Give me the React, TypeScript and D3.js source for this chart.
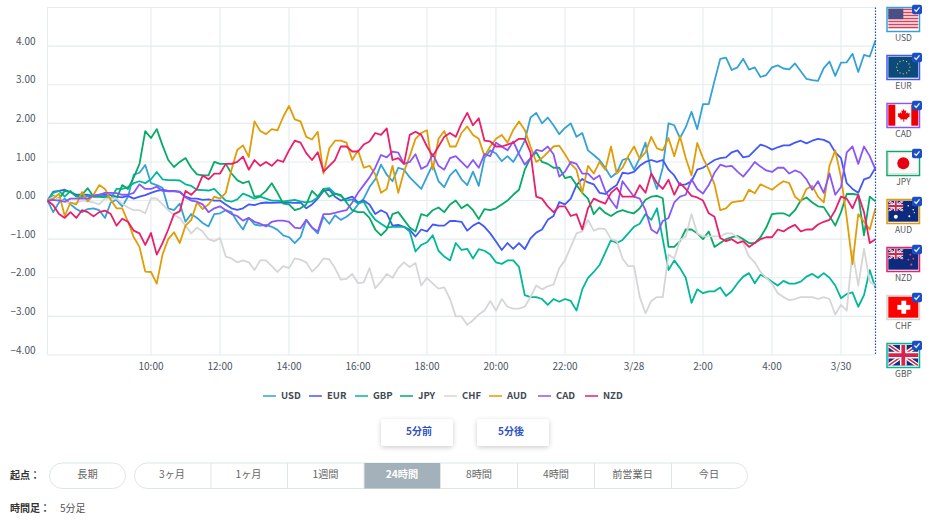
import * as d3 from "d3"

const currencies = ["USD", "EUR", "GBP", "JPY", "CHF", "AUD", "CAD", "NZD"]
const colors: Record<string, string> = {
  USD: "#34a2d6",
  EUR: "#4258f8",
  GBP: "#00b899",
  JPY: "#05ab66",
  CHF: "#d6d6d6",
  AUD: "#e09d06",
  CAD: "#8a56f8",
  NZD: "#ea1f6c",
}

// 10 minute readings, one row per hour, 7:00 to 7:00
const USD = [
  0, -0.3, -0.05, 0.05, -0.1, -0.22,
  -0.3, -0.22, -0.2, -0.25, -0.45, -0.05,
  0.02, -0.15, 0.1, 0.67, 0.72, 0.92,
  0.45, 0.4, 0.33, -0.2, -0.25, -0.08,
  -0.55, -0.35, -0.45, -0.58, -0.67, -0.35,
  -0.33, -0.25, -0.3, -0.55, -0.75, -0.45,
  -0.62, -0.65, -0.63, -0.68, -0.76, -0.9,
  -0.95, -1.1, -0.95, -0.5, -0.7, -0.85,
  -0.42, -0.6, -0.38, -0.5, -0.42, -0.3,
  -0.1, 0.05, 0.35, 0.55, 0.93, 0.67,
  0.5, 0.85, 0.8, 0.6, 0.45, 0.3,
  0.62, 0.93, 0.5, 0.35, 0.65, 0.8,
  0.55, 0.4, 0.75, 0.38, 1.1, 1.3,
  1.22, 1.02, 1.15, 1.0, 1.25, 1.55,
  2.15, 2.27, 2.0, 2.15, 1.95, 1.72,
  1.88, 2.0, 1.65, 1.75, 1.3, 1.18,
  1.05, 0.85, 0.6, 0.72, 1.05, 1.1,
  0.8, 1.1, 1.5, 0.7, 0.3, 0.85,
  2.0, 1.95, 1.62, 1.9, 2.3, 1.85,
  2.5, 2.5, 3.1, 3.67, 3.7, 3.38,
  3.45, 3.67, 3.39, 3.45, 3.2, 3.25,
  3.45, 3.5, 3.42, 3.4, 3.55, 3.35,
  3.15, 3.12, 3.1, 3.43, 3.6, 3.23,
  3.57, 3.58, 3.8, 3.33, 3.77, 3.73, 4.15,
]
const EUR = [
  0, 0.23, 0.25, 0.28, 0.22, 0.15,
  0.15, 0.15, 0.12, 0.15, 0.15, 0.14,
  0.1, 0.08, 0.12, 0.05, 0.1, 0.14,
  0.2, 0.25, 0.28, 0.25, 0.25, 0.23,
  0.1, 0.05, 0.05, 0.02, 0.03, 0.0,
  0.0, -0.1, -0.2, -0.24, -0.2, -0.1,
  -0.12, -0.07, -0.05, -0.06, -0.05, -0.05,
  -0.05, -0.06, -0.05, -0.2, -0.1, 0.05,
  0.25, 0.28, 0.1, 0.0, 0.05, 0.1,
  -0.05, 0.0, -0.1, -0.35, -0.25, -0.33,
  -0.65, -0.63, -0.68, -0.76, -0.93, -0.75,
  -0.8, -0.62, -0.65, -0.65, -0.53, -0.53,
  -0.55, -0.78, -0.65, -0.57, -0.68, -0.85,
  -1.06, -1.28, -1.1, -1.25, -1.1, -1.26,
  -0.98, -0.83, -0.75, -0.5, -0.4, -0.04,
  -0.1, 0.05, 0.4, 0.56, 0.47, 0.42,
  0.2, 0.17, 0.3, 0.4, 0.72, 0.7,
  0.74, 0.9, 1.0, 1.05, 1.0, 1.05,
  0.8, 0.65, 0.4, 0.42, 0.5, 0.8,
  0.85, 0.95, 1.05, 1.1, 1.12, 1.25,
  1.3, 1.12, 1.15, 1.3, 1.45, 1.4,
  1.32, 1.38, 1.43, 1.43, 1.5, 1.55,
  1.48, 1.55, 1.6, 1.57, 1.5, 1.25,
  1.1, 0.45, 0.3, 0.2, 0.55, 0.6, 0.85,
]
const GBP = [
  0, 0.2, 0.25, 0.1, 0.25, 0.1,
  0.1, 0.12, 0.1, 0.1, 0.08, 0.05,
  0.3, 0.3, 0.35, 0.45, 0.5, 0.45,
  0.55, 0.74, 0.55, 0.53, 0.53, 0.52,
  0.42, 0.38, 0.28, 0.27, 0.26, 0.3,
  0.15, 0.0, -0.03, 0.03, 0.18, 0.12,
  0.05, 0.1, 0.05, 0.0, 0.0, -0.02,
  0.0, 0.02, -0.02, -0.05, -0.02, 0.08,
  0.3, 0.32, 0.18, 0.12, 0.0, 0.03,
  -0.08, -0.03, -0.3, -0.5, -0.6, -0.7,
  -0.68, -0.68, -0.68, -0.8, -1.32, -1.15,
  -1.08, -0.9, -1.3, -1.45, -1.55, -1.1,
  -1.28, -1.25, -1.5, -1.26, -1.3, -1.4,
  -1.6, -1.64, -1.55, -1.55, -1.72, -2.45,
  -2.5, -2.5, -2.55, -2.7, -2.55, -2.62,
  -2.55, -2.6, -2.85, -2.3, -2.0, -1.85,
  -1.67, -1.35, -1.02, -1.1, -1.02, -0.85,
  -0.68, -0.6, -0.35, -0.5, -0.2, -1.0,
  -1.8, -1.55, -1.75, -2.0, -2.65, -2.3,
  -2.4, -2.35, -2.35, -2.25, -2.47, -2.35,
  -2.14, -1.97, -1.88, -2.14, -1.92, -2.0,
  -2.1, -2.2, -2.08, -2.15, -2.15, -2.1,
  -1.97, -1.9, -2.0, -1.88, -2.0, -2.2,
  -2.53, -2.42, -2.38, -2.75, -2.45, -1.8, -2.27,
]
const JPY = [
  0, 0.12, 0.05, 0.25, 0.22, 0.12,
  0.15, 0.32, 0.1, 0.1, 0.1, 0.07,
  0.05, 0.4, 0.3, 0.6, 0.95, 1.8,
  1.62, 1.85, 1.43, 1.05, 0.87, 1.0,
  1.1, 0.85, 0.68, 0.65, 0.65, 1.0,
  0.95, 0.95, 0.7, 0.53, 0.45, 0.5,
  0.1, 0.12, 0.25, 0.45, 0.2, -0.08,
  -0.1, -0.25, -0.2, -0.1, 0.25, 0.1,
  0.3, 0.1, 0.18, 0.15, -0.05, -0.25,
  -0.3, -0.3, -0.45, -0.75, -0.9, -0.75,
  -0.35, -0.3, -0.5, -0.7, -0.8, -0.35,
  -0.4, -0.25, -0.18, -0.3, -0.1, 0.0,
  -0.2, -0.1, -0.25, -0.48, -0.22, -0.25,
  -0.2, -0.1, 0.0, 0.15, 0.28, 0.8,
  1.1, 1.25, 1.0, 0.95, 0.85, 0.85,
  0.58, 0.62, 0.4, 0.2, 0.05, -0.35,
  -0.18, -0.32, -0.4, -0.3, -0.25, -0.3,
  -0.33, -0.2, 0.02, 0.1, 0.12, 0.06,
  -1.2, -1.2, -1.05, -0.75, -0.75, -0.85,
  -1.0, -0.8, -1.2, -1.1, -1.0, -0.95,
  -0.92, -1.0, -1.1, -1.1, -0.95, -0.7,
  -0.35, -0.33, -0.33, -0.4, -0.25, 0.0,
  0.08, -0.05, -0.15, -0.17, -0.4, -0.65,
  -0.3, 0.17, 0.17, 0.15, -0.9, 0.1, -0.02,
]
const CHF = [
  0, 0.1, 0.05, -0.03, -0.07, -0.07,
  0.0, -0.02, -0.05, -0.1, 0.05, 0.06,
  0.05, -0.08, -0.18, -0.25, -0.25, -0.33,
  0.06, 0.05, -0.1, -0.25, -0.37, -0.45,
  -0.65, -0.85, -0.7, -0.8, -1.0, -1.05,
  -0.97, -1.45, -1.5, -1.6, -1.55, -1.6,
  -1.8, -1.55, -1.55, -1.7, -1.85, -1.7,
  -1.75, -1.5, -1.53, -1.6, -1.84, -1.7,
  -1.5, -1.52, -1.75, -2.05, -2.03, -1.9,
  -2.14, -2.12, -1.75, -2.27, -2.1, -1.9,
  -2.0, -1.75, -1.6, -1.72, -1.62, -2.2,
  -2.0, -2.15, -2.28, -2.25, -2.55, -3.0,
  -3.0, -3.22, -3.1, -2.95, -2.85, -2.6,
  -2.85, -2.55, -2.75, -2.8, -2.8, -2.75,
  -2.5, -2.2, -2.3, -2.22, -2.18, -1.75,
  -1.55, -1.2, -0.85, -0.8, -0.5, -0.78,
  -0.72, -0.74, -1.0, -1.05, -1.5, -1.7,
  -1.7, -2.5, -2.92, -2.6, -2.5, -2.5,
  -1.4, -1.5, -1.02, -0.93, -0.35, -0.85,
  -0.93, -0.93, -0.93, -0.93, -0.85, -0.85,
  -0.95, -1.1, -1.45, -1.6, -1.85, -2.0,
  -2.15, -2.4, -2.5, -2.58, -2.55, -2.5,
  -2.5, -2.5, -2.55, -2.5, -2.55, -2.95,
  -2.7, -2.85, -1.3, -2.2, -1.25, -2.1, -2.2,
]
const AUD = [
  0, 0.05, 0.18, -0.4, -0.05, -0.1,
  0.22, -0.02, 0.15, 0.4, 0.3, 0.02,
  -0.2, -0.2, -0.55, -0.95, -1.2, -1.84,
  -1.85, -2.15, -1.4, -1.0, -0.82, -1.1,
  -0.65, -0.5, -0.05, -0.22, -0.1, 0.1,
  0.05, 0.2, 0.8, 1.31, 1.43, 1.13,
  2.05, 1.8, 1.72, 1.85, 1.82, 2.17,
  2.45, 2.1, 2.05, 1.65, 1.58, 1.78,
  0.7, 1.35, 1.55, 1.55, 1.5, 1.05,
  1.3, 0.85, 0.9, 0.68, 0.2, 0.3,
  0.9, 0.2, 0.75, 1.15, 1.6, 1.75,
  1.82, 0.8, 1.6, 1.8, 1.4, 1.4,
  1.75, 1.92, 1.7, 1.6, 1.15, 1.4,
  1.6, 1.7, 1.5, 1.83, 2.05, 1.83,
  1.4, 1.0, 1.1, 1.25, 1.4, 1.42,
  1.2, 0.95, 0.8, 0.2, 0.9, 0.7,
  1.0, 0.8, 1.4, 0.7, 0.85, 1.15,
  1.4, 1.08, 1.25, 1.65, 1.35, 1.3,
  1.62, 1.15, 1.66, 1.1, 0.65, 1.49,
  1.1, 0.8, 0.42, -0.25, -0.2, -0.05,
  -0.02, 0.0, 0.28, 0.19, 0.42, 0.35,
  0.28, 0.4, 0.5, 0.45, 0.1, -0.02,
  0.3, 0.38, 0.1, -0.05, 0.9, 1.3,
  0.6, -0.45, -1.65, -0.35, -0.55, -0.75, -0.2,
]
const CAD = [
  0, 0.02, 0.0, -0.03, 0.05, 0.05,
  0.06, 0.05, 0.13, 0.15, 0.2, 0.2,
  0.19, 0.15, 0.15, 0.2, 0.42, 0.3,
  0.3, 0.36, 0.25, 0.24, 0.24, 0.22,
  0.08, 0.0, -0.03, -0.1, -0.3, -0.2,
  -0.15, -0.25, -0.35, -0.4, -0.52, -0.45,
  -0.55, -0.6, -0.67, -0.55, -0.52, -0.52,
  -0.55, -0.7, -0.72, -0.5, -0.7, -0.8,
  -0.35, -0.35, -0.32, -0.28, -0.25, -0.05,
  0.2, 0.4, 0.6, 0.85, 1.18, 1.12,
  1.27, 1.24, 0.95, 1.0, 1.2, 0.82,
  0.9, 1.2, 0.9, 0.8, 1.1, 1.15,
  1.0, 0.85, 1.05, 0.85, 1.2, 1.15,
  1.5, 1.4, 1.3, 1.53, 1.2, 0.93,
  1.1, 1.31, 1.28, 1.4, 1.2, 0.62,
  0.75, 1.0, 0.95, 0.7, 0.7, 0.55,
  0.65, 0.25, 0.0, -0.2, 0.5, 0.3,
  0.1, 0.05, -0.25, -0.75, -0.85, -0.53,
  -0.45, -0.05, 0.1, 0.15, 0.55, 0.3,
  0.18, 0.4, 0.72, 0.93, 0.88, 0.9,
  0.75, 0.62, 0.8, 1.0, 0.88, 0.78,
  0.74, 0.85, 0.85, 0.7, 0.78, 0.72,
  0.55, 0.28, 0.5, 0.2, 0.7, 0.15,
  0.35, 1.25, 1.4, 0.95, 1.4, 1.15, 0.8,
]
const NZD = [
  0, -0.12, -0.35, -0.45, -0.3, -0.45,
  -0.25, -0.3, -0.41, -0.3, -0.26, -0.35,
  -0.65, -0.47, -0.55, -0.78, -0.85, -1.15,
  -0.84, -1.4, -1.1, -0.75, -0.35, -0.28,
  0.25, 0.15, 0.3, 0.65, 0.55, 0.7,
  0.7, 0.95, 0.95, 1.0, 1.14, 0.8,
  1.05, 0.9, 1.0, 0.9, 1.05, 1.0,
  1.3, 1.55, 1.5, 1.23, 1.05, 1.25,
  0.75, 0.9, 1.05, 1.4, 1.4, 1.27,
  1.27, 1.45, 1.53, 1.75, 1.7, 1.87,
  1.05, 1.1, 0.95, 1.7, 1.78, 1.7,
  1.4, 1.15, 1.4, 1.65, 1.75, 1.65,
  2.0, 2.27, 1.95, 2.13, 1.55, 1.53,
  1.4, 1.4, 1.45, 1.5, 1.6, 1.6,
  1.25, 0.1, 0.05, -0.15, -0.3, -0.15,
  -0.15, -0.4, -0.35, -0.75, -0.2, 0.05,
  -0.02, -0.08, 0.2, 0.33, 0.1, 0.1,
  0.1, 0.4, 0.2, 0.7, 0.45, 0.3,
  0.54, 0.15, 0.45, 0.3, 0.12, 0.08,
  0.0, -0.33, -0.42, -0.97, -1.05, -1.0,
  -1.1, -1.05, -1.2, -1.1, -1.0, -0.95,
  -0.95, -0.75, -0.8, -0.7, -0.63, -0.8,
  -0.75, -0.75, -0.62, -0.55, -0.5, -0.25,
  0.1, 0.05, -0.2, 0.15, -0.3, -1.1, -1.0,
]
const seriesValues: Record<string, number[]> = { USD, EUR, GBP, JPY, CHF, AUD, CAD, NZD }

const yTicks = [-4, -3, -2, -1, 0, 1, 2, 3, 4]
const xTickHours = [3, 5, 7, 9, 11, 13, 15, 17, 19, 21, 23]
const xTickLabels = ["10:00", "12:00", "14:00", "16:00", "18:00", "20:00", "22:00", "3/28", "2:00", "4:00", "3/30"]

const flagOrder = ["USD", "EUR", "CAD", "JPY", "AUD", "NZD", "CHF", "GBP"]
const rangeButtons = ["3ヶ月", "1ヶ月", "1週間", "24時間", "8時間", "4時間", "前営業日", "今日"]

const font = "'Noto Sans CJK JP', 'Noto Sans', sans-serif"
const left = 47.5
const right = 875.5
const top = 7.5
const bottom = 355

const x = d3.scaleLinear().domain([0, 24]).range([left, right])
const y = d3.scaleLinear().domain([-4, 5]).range([bottom, top])
const line = d3
  .line<number>()
  .x((_, i) => x(i / 6))
  .y((d) => y(d))
  .curve(d3.curveLinear)

function UnionJack({ w, h, id }: { w: number; h: number; id: string }) {
  return (
    <g>
      <clipPath id={id}>
        <rect width={w} height={h} />
      </clipPath>
      <g clipPath={`url(#${id})`}>
        <rect width={w} height={h} fill="#1a2f7a" />
        <path d={`M0 0L${w} ${h}M${w} 0L0 ${h}`} stroke="#fff" strokeWidth={h * 0.2} />
        <path d={`M0 0L${w} ${h}M${w} 0L0 ${h}`} stroke="#d8234a" strokeWidth={h * 0.07} />
        <path d={`M${w / 2} 0V${h}M0 ${h / 2}H${w}`} stroke="#fff" strokeWidth={h * 0.32} />
        <path d={`M${w / 2} 0V${h}M0 ${h / 2}H${w}`} stroke="#d8234a" strokeWidth={h * 0.18} />
      </g>
    </g>
  )
}

function Flag({ code }: { code: string }) {
  // drawn in a 30x21 box
  if (code === "USD") {
    const stripes = d3.range(7)
    return (
      <g>
        <rect width={30} height={21} fill="#fff" />
        {stripes.map((s) => (
          <rect key={s} y={s * 3} width={30} height={1.6} fill="#d9415a" />
        ))}
        <rect width={15} height={10.5} fill="#4a4f86" />
      </g>
    )
  }
  if (code === "EUR") {
    return (
      <g>
        <rect width={30} height={21} fill="#0b4a7c" />
        {d3.range(12).map((s) => (
          <circle
            key={s}
            cx={15 + 6.6 * Math.cos((s * Math.PI) / 6)}
            cy={10.5 + 6.6 * Math.sin((s * Math.PI) / 6)}
            r={0.65}
            fill="#e6c92e"
          />
        ))}
      </g>
    )
  }
  if (code === "CAD") {
    return (
      <g>
        <rect width={30} height={21} fill="#fff" />
        <rect width={7} height={21} fill="#ee0000" />
        <rect x={23} width={7} height={21} fill="#ee0000" />
        <path
          d="M15 4l1.4 2.4 1.6-.8-.6 3.4 1.7-1.4.5 1.3 2-.3-.6 2.1.9.5-3.2 2.5.4 1.2-3.1-.4V17h-1v-2.5l-3.1.4.4-1.2-3.2-2.5.9-.5-.6-2.1 2 .3.5-1.3 1.7 1.4-.6-3.4 1.6.8z"
          fill="#ee0000"
        />
      </g>
    )
  }
  if (code === "JPY") {
    return (
      <g>
        <rect width={30} height={21} fill="#fafafa" stroke="#dcdcdc" strokeWidth={1} />
        <circle cx={15} cy={10.5} r={6} fill="#e60012" />
      </g>
    )
  }
  if (code === "CHF") {
    return (
      <g>
        <rect width={30} height={21} fill="#ff0000" />
        <rect x={9} y={8.2} width={13} height={4.8} fill="#fff" />
        <rect x={13.1} y={4} width={4.8} height={13} fill="#fff" />
      </g>
    )
  }
  if (code === "GBP") {
    return <UnionJack w={30} h={21} id="jack-gbp" />
  }
  const stars = code === "AUD" ? [[7.5, 16, 2], [20, 5, 0.8], [25, 9, 0.8], [21, 15.5, 1], [26, 12, 0.6]] : [[22, 6, 0.9], [25, 10, 0.9], [20, 11, 0.9], [23, 16, 1.1]]
  const starColor = code === "AUD" ? "#fff" : "#e8476b"
  return (
    <g>
      <rect width={30} height={21} fill="#0e2a7c" />
      <UnionJack w={15} h={10.5} id={`jack-${code}`} />
      {stars.map((s, i) => (
        <circle key={i} cx={s[0]} cy={s[1]} r={s[2]} fill={starColor} />
      ))}
    </g>
  )
}

const legendStarts = [263, 309, 355, 400, 444, 489, 538, 585]
const rangeCenters = [172, 248.5, 325.5, 402, 479, 556, 632.5, 709]
const rangeDividers = [211, 287.5, 364, 440.5, 517.5, 594.5, 671.5]

export default function App() {
  return (
    <svg
      width={931}
      height={529}
      viewBox="0 0 931 529"
      style={{ position: "absolute", left: 0, top: 0, fontFamily: font }}
    >
      <defs>
        <filter id="btn-shadow" x="-20%" y="-30%" width="140%" height="180%">
          <feDropShadow dx={0} dy={1.5} stdDeviation={2.5} floodColor="#000" floodOpacity={0.2} />
        </filter>
      </defs>
      <rect width={931} height={529} fill="#fff" />

      {/* grid */}
      <g stroke="#e4ecee" strokeWidth={1.1}>
        {yTicks.concat(5).map((t) => (
          <line key={t} x1={left} x2={right} y1={y(t)} y2={y(t)} />
        ))}
        <line x1={left} x2={left} y1={top} y2={bottom} />
        {xTickHours.map((h) => (
          <line key={h} x1={x(h)} x2={x(h)} y1={top} y2={bottom} />
        ))}
      </g>

      {/* axes labels */}
      <g fontSize={10} fill="#4b5563" textAnchor="end">
        {yTicks.map((t) => (
          <text key={t} x={35.5} y={y(t) - 4} dominantBaseline="middle">
            {d3.format(".2f")(t)}
          </text>
        ))}
      </g>
      <g fontSize={10} fill="#4b5563" textAnchor="middle">
        {xTickHours.map((h, i) => (
          <text key={h} x={x(h)} y={367} dominantBaseline="middle">
            {xTickLabels[i]}
          </text>
        ))}
      </g>

      {/* series */}
      {currencies.map((c) => (
        <path
          key={c}
          d={line(seriesValues[c]) ?? ""}
          fill="none"
          stroke={colors[c]}
          strokeWidth={1.8}
          strokeLinejoin="round"
        />
      ))}

      <line x1={right} x2={right} y1={top} y2={bottom} stroke="#1e4cc8" strokeWidth={1.2} strokeDasharray="1.5 1.5" />

      {/* flags */}
      {flagOrder.map((c, i) => (
        <g key={c} transform={`translate(887,${7.5 + i * 48})`}>
          <rect x={0} y={0} width={32.5} height={24} fill="#fff" stroke={colors[c]} strokeWidth={1.5} />
          <g transform="translate(1.3,1.2)">
            <Flag code={c} />
          </g>
          <rect x={25} y={-2.8} width={10} height={9.6} rx={2} fill="#1b4fc4" />
          <path d="M27.5 2l1.7 1.8 3.3-4" fill="none" stroke="#fff" strokeWidth={1.2} />
          <text x={16.5} y={31} fontSize={8.5} fill="#555" textAnchor="middle" dominantBaseline="middle">
            {c}
          </text>
        </g>
      ))}

      {/* legend */}
      {currencies.map((c, i) => (
        <g key={c}>
          <line x1={legendStarts[i]} x2={legendStarts[i] + 13} y1={396} y2={396} stroke={colors[c]} strokeWidth={1.5} />
          <text x={legendStarts[i] + 18} y={396} fontSize={9.5} fontWeight={700} fill="#3f4a55" dominantBaseline="middle">
            {c}
          </text>
        </g>
      ))}

      {/* step buttons */}
      {["5分前", "5分後"].map((b, i) => (
        <g key={b}>
          <rect x={381 + i * 96} y={419} width={72} height={27} rx={3} fill="#fff" filter="url(#btn-shadow)" />
          <text
            x={419 + i * 92}
            y={432.5}
            fontSize={10}
            fontWeight={700}
            fill="#2d52c4"
            textAnchor="middle"
            dominantBaseline="middle"
          >
            {b}
          </text>
        </g>
      ))}

      {/* range selector */}
      <text x={10} y={476} fontSize={10} fontWeight={700} fill="#333" dominantBaseline="middle">
        起点：
      </text>
      <rect x={49.5} y={463} width={76} height={25.5} rx={12.75} fill="#fff" stroke="#dde6e6" />
      <text x={87.5} y={475.5} fontSize={10.2} fill="#666" textAnchor="middle" dominantBaseline="middle">
        長期
      </text>
      <rect x={134.5} y={463} width={613} height={25.5} rx={12.75} fill="#fff" stroke="#dde6e6" />
      <rect x={364} y={463} width={76.5} height={25.5} fill="#a3b1ba" />
      {rangeDividers.map((sx) => (
        <line key={sx} x1={sx} x2={sx} y1={463} y2={488.5} stroke="#dde6e6" />
      ))}
      {rangeButtons.map((b, i) => {
        const active = b === "24時間"
        return (
          <text
            key={b}
            x={rangeCenters[i]}
            y={475.5}
            fontSize={10.2}
            fontWeight={active ? 700 : 400}
            fill={active ? "#fff" : "#666"}
            textAnchor="middle"
            dominantBaseline="middle"
          >
            {b}
          </text>
        )
      })}

      <text x={10} y={509} fontSize={10} fontWeight={700} fill="#333" dominantBaseline="middle">
        時間足：
      </text>
      <text x={60} y={509} fontSize={10} fill="#555" dominantBaseline="middle">
        5分足
      </text>
    </svg>
  )
}
